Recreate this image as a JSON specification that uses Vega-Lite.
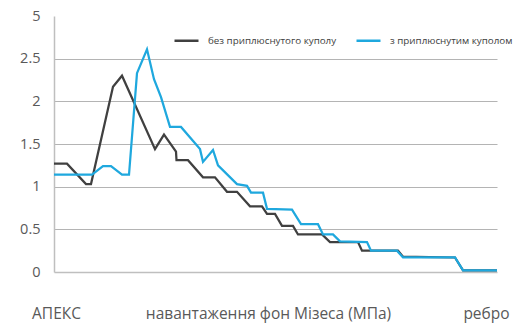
{
  "$schema": "https://vega.github.io/schema/vega-lite/v6.json",
  "width": 443,
  "height": 256,
  "autosize": {"type": "none"},
  "padding": {"left": 54, "top": 16, "right": 30, "bottom": 54},
  "background": "white",
  "config": {
    "view": {"stroke": null},
    "font": "Open Sans"
  },
  "data": {
    "values": [
      {"x": 0, "v": 1.27, "s": "без приплюснутого куполу"},
      {"x": 13, "v": 1.27, "s": "без приплюснутого куполу"},
      {"x": 32, "v": 1.03, "s": "без приплюснутого куполу"},
      {"x": 37, "v": 1.03, "s": "без приплюснутого куполу"},
      {"x": 59, "v": 2.17, "s": "без приплюснутого куполу"},
      {"x": 68, "v": 2.30, "s": "без приплюснутого куполу"},
      {"x": 101, "v": 1.44, "s": "без приплюснутого куполу"},
      {"x": 110, "v": 1.61, "s": "без приплюснутого куполу"},
      {"x": 122, "v": 1.41, "s": "без приплюснутого куполу"},
      {"x": 122.5, "v": 1.31, "s": "без приплюснутого куполу"},
      {"x": 134, "v": 1.31, "s": "без приплюснутого куполу"},
      {"x": 149, "v": 1.11, "s": "без приплюснутого куполу"},
      {"x": 161, "v": 1.11, "s": "без приплюснутого куполу"},
      {"x": 173, "v": 0.94, "s": "без приплюснутого куполу"},
      {"x": 183, "v": 0.94, "s": "без приплюснутого куполу"},
      {"x": 196, "v": 0.77, "s": "без приплюснутого куполу"},
      {"x": 208, "v": 0.77, "s": "без приплюснутого куполу"},
      {"x": 213, "v": 0.68, "s": "без приплюснутого куполу"},
      {"x": 221, "v": 0.68, "s": "без приплюснутого куполу"},
      {"x": 228, "v": 0.54, "s": "без приплюснутого куполу"},
      {"x": 239, "v": 0.54, "s": "без приплюснутого куполу"},
      {"x": 244, "v": 0.44, "s": "без приплюснутого куполу"},
      {"x": 268, "v": 0.44, "s": "без приплюснутого куполу"},
      {"x": 276, "v": 0.35, "s": "без приплюснутого куполу"},
      {"x": 304, "v": 0.35, "s": "без приплюснутого куполу"},
      {"x": 308, "v": 0.25, "s": "без приплюснутого куполу"},
      {"x": 344, "v": 0.25, "s": "без приплюснутого куполу"},
      {"x": 349, "v": 0.18, "s": "без приплюснутого куполу"},
      {"x": 401, "v": 0.17, "s": "без приплюснутого куполу"},
      {"x": 409, "v": 0.02, "s": "без приплюснутого куполу"},
      {"x": 443, "v": 0.02, "s": "без приплюснутого куполу"},
      {"x": 0, "v": 1.14, "s": "з приплюснутим куполом"},
      {"x": 38, "v": 1.14, "s": "з приплюснутим куполом"},
      {"x": 49, "v": 1.24, "s": "з приплюснутим куполом"},
      {"x": 57, "v": 1.24, "s": "з приплюснутим куполом"},
      {"x": 68, "v": 1.14, "s": "з приплюснутим куполом"},
      {"x": 75, "v": 1.14, "s": "з приплюснутим куполом"},
      {"x": 83, "v": 2.33, "s": "з приплюснутим куполом"},
      {"x": 93, "v": 2.61, "s": "з приплюснутим куполом"},
      {"x": 100, "v": 2.26, "s": "з приплюснутим куполом"},
      {"x": 107, "v": 2.05, "s": "з приплюснутим куполом"},
      {"x": 116, "v": 1.70, "s": "з приплюснутим куполом"},
      {"x": 127, "v": 1.70, "s": "з приплюснутим куполом"},
      {"x": 146, "v": 1.44, "s": "з приплюснутим куполом"},
      {"x": 149, "v": 1.29, "s": "з приплюснутим куполом"},
      {"x": 159, "v": 1.43, "s": "з приплюснутим куполом"},
      {"x": 164, "v": 1.25, "s": "з приплюснутим куполом"},
      {"x": 183, "v": 1.03, "s": "з приплюснутим куполом"},
      {"x": 193, "v": 1.01, "s": "з приплюснутим куполом"},
      {"x": 197, "v": 0.93, "s": "з приплюснутим куполом"},
      {"x": 209, "v": 0.93, "s": "з приплюснутим куполом"},
      {"x": 213, "v": 0.74, "s": "з приплюснутим куполом"},
      {"x": 238, "v": 0.73, "s": "з приплюснутим куполом"},
      {"x": 247, "v": 0.56, "s": "з приплюснутим куполом"},
      {"x": 264, "v": 0.56, "s": "з приплюснутим куполом"},
      {"x": 269, "v": 0.44, "s": "з приплюснутим куполом"},
      {"x": 279, "v": 0.44, "s": "з приплюснутим куполом"},
      {"x": 286, "v": 0.36, "s": "з приплюснутим куполом"},
      {"x": 313, "v": 0.35, "s": "з приплюснутим куполом"},
      {"x": 317, "v": 0.25, "s": "з приплюснутим куполом"},
      {"x": 343, "v": 0.25, "s": "з приплюснутим куполом"},
      {"x": 349, "v": 0.17, "s": "з приплюснутим куполом"},
      {"x": 401, "v": 0.17, "s": "з приплюснутим куполом"},
      {"x": 409, "v": 0.02, "s": "з приплюснутим куполом"},
      {"x": 443, "v": 0.02, "s": "з приплюснутим куполом"}
    ]
  },
  "mark": {"type": "line", "strokeWidth": 2.25},
  "encoding": {
    "x": {
      "field": "x",
      "type": "quantitative",
      "scale": {"domain": [0, 443], "nice": false, "zero": false},
      "axis": {
        "title": null,
        "values": [2, 214, 432],
        "labelExpr": "datum.value == 2 ? 'АПЕКС' : datum.value == 432 ? 'ребро' : 'навантаження фон Мізеса (МПа)'",
        "grid": false,
        "ticks": false,
        "domainColor": "#bfbfbf",
        "domainWidth": 1.5,
        "labelPadding": 34,
        "labelFontSize": 15.5,
        "labelColor": "#595959",
        "labelFont": "Open Sans",
        "labelOverlap": false,
        "labelFlush": false,
        "labelLimit": 500
      }
    },
    "y": {
      "field": "v",
      "type": "quantitative",
      "scale": {"domain": [0, 3], "nice": false},
      "axis": {
        "title": null,
        "values": [0, 0.5, 1, 1.5, 2, 2.5, 3],
        "labelExpr": "datum.value == 3 ? '5' : format(datum.value, '')",
        "grid": true,
        "gridColor": {"condition": {"test": "datum.value == 3 || datum.value == 0", "value": "transparent"}, "value": "#b4b4b4"},
        "gridWidth": 1.2,
        "ticks": false,
        "domainColor": "#bfbfbf",
        "domainWidth": 1.5,
        "labelPadding": 14,
        "labelFontSize": 14.5,
        "labelColor": "#595959",
        "labelFont": "Open Sans"
      }
    },
    "color": {
      "field": "s",
      "type": "nominal",
      "scale": {
        "domain": ["без приплюснутого куполу", "з приплюснутим куполом"],
        "range": ["#404040", "#1fa8de"]
      },
      "legend": {
        "title": null,
        "orient": "none",
        "legendX": 119,
        "legendY": 11,
        "direction": "horizontal",
        "symbolType": "stroke",
        "symbolSize": 576,
        "symbolStrokeWidth": 2.5,
        "labelFontSize": 9.8,
        "labelColor": "#404040",
        "labelFont": "Open Sans",
        "labelOffset": 8,
        "columnPadding": 14,
        "labelLimit": 300
      }
    }
  }
}
